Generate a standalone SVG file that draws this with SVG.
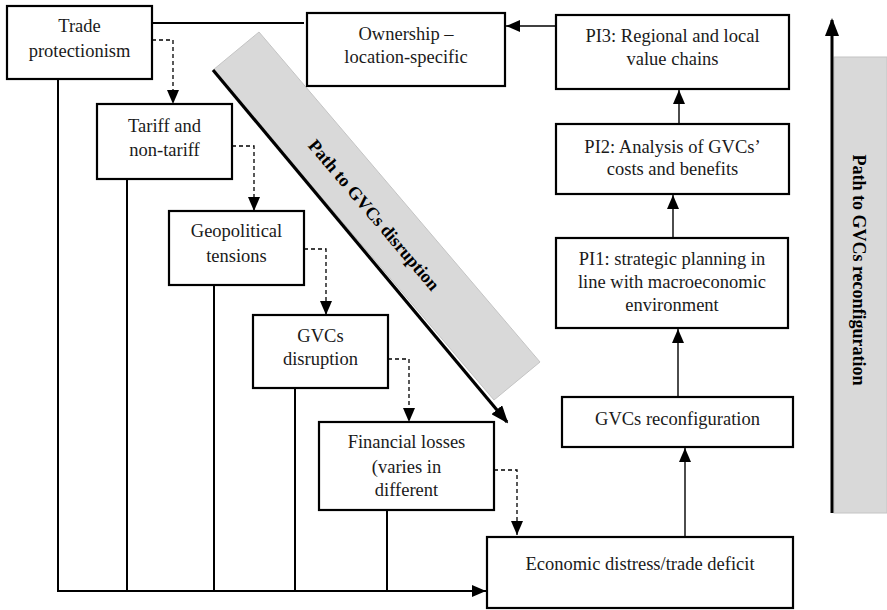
<svg xmlns="http://www.w3.org/2000/svg" width="887" height="610" viewBox="0 0 887 610">
<style>
.box{fill:#fff;stroke:#000;stroke-width:2.2}
.t{font-size:18.5px;fill:#1a1a1a;text-anchor:middle}
.b{font-size:18px;font-weight:bold;fill:#000;text-anchor:middle}
.solid{fill:none;stroke:#000;stroke-width:2}
.thin{fill:none;stroke:#000;stroke-width:1.4}
.dash{fill:none;stroke:#000;stroke-width:1.3;stroke-dasharray:4 3}
.band{fill:#d9d9d9;stroke:#c4c4c4;stroke-width:1}
</style>
<defs>
<marker id="ah" markerUnits="userSpaceOnUse" markerWidth="14" markerHeight="12" refX="14" refY="6" orient="auto" viewBox="0 0 14 12"><path d="M0,0 L14,6 L0,12 z" fill="#000"/></marker>
<marker id="ahb" markerUnits="userSpaceOnUse" markerWidth="18" markerHeight="14" refX="16" refY="7" orient="auto" viewBox="0 0 18 14"><path d="M0,0 L18,7 L0,14 z" fill="#000"/></marker>
</defs>
<g font-family="'Liberation Serif', 'DejaVu Serif', serif">
<g id="bands">
<polygon class="band" points="213,70 259,32 540,362 494,400"/>
<rect class="band" x="834" y="57" width="53" height="456"/>
<text class="b" transform="translate(374,215) rotate(49.6)" dy="6">Path to GVCs disruption</text>
<text class="b" transform="translate(859,270) rotate(90)" dy="6">Path to GVCs reconfiguration</text>
</g>
<g id="connectors">
<path class="solid" d="M152,23 H304"/>
<path class="thin" d="M556,26 H506" marker-end="url(#ah)"/>
<path class="thin" d="M679,124 V90" marker-end="url(#ah)"/>
<path class="thin" d="M673,238 V195" marker-end="url(#ah)"/>
<path class="thin" d="M678,397 V329" marker-end="url(#ah)"/>
<path class="thin" d="M685,537 V448" marker-end="url(#ah)"/>
<path class="dash" d="M152,40 H173 V104" marker-end="url(#ah)"/>
<path class="dash" d="M232,146 H254 V211" marker-end="url(#ah)"/>
<path class="dash" d="M304,249 H326 V315" marker-end="url(#ah)"/>
<path class="dash" d="M388,359 H409 V422" marker-end="url(#ah)"/>
<path class="dash" d="M494,470 H517 V535" marker-end="url(#ah)"/>
<path class="solid" d="M58,79 V591"/>
<path class="solid" d="M127,179 V591"/>
<path class="solid" d="M214,285 V591"/>
<path class="solid" d="M295,388 V591"/>
<path class="solid" d="M387,510 V591"/>
<path class="solid" d="M57,591 H486" stroke="#333" marker-end="url(#ah)"/>
<path fill="none" stroke="#000" stroke-width="3.2" d="M213,70 L507,422" marker-end="url(#ahb)"/>
<path fill="none" stroke="#000" stroke-width="3" d="M832,513 V20" marker-end="url(#ahb)"/>
</g>
<g id="trade"><rect class="box" x="7" y="6" width="145" height="73"/><text class="t" x="79.5" y="32">Trade</text><text class="t" x="79.5" y="57">protectionism</text></g>
<g id="ownership"><rect class="box" x="307" y="13" width="198" height="73"/><text class="t" x="406" y="40">Ownership –</text><text class="t" x="406" y="63">location-specific</text></g>
<g id="tariff"><rect class="box" x="97" y="104" width="135" height="75"/><text class="t" x="164.5" y="132">Tariff and</text><text class="t" x="164.5" y="156">non-tariff</text></g>
<g id="geo"><rect class="box" x="169" y="211" width="135" height="74"/><text class="t" x="236.5" y="237">Geopolitical</text><text class="t" x="236.5" y="262">tensions</text></g>
<g id="disruption"><rect class="box" x="253" y="315" width="135" height="73"/><text class="t" x="320.5" y="342">GVCs</text><text class="t" x="320.5" y="365">disruption</text></g>
<g id="financial"><rect class="box" x="319" y="422" width="175" height="88"/><text class="t" x="406.5" y="448">Financial losses</text><text class="t" x="406.5" y="473">(varies in</text><text class="t" x="406.5" y="496">different</text></g>
<g id="economic"><rect class="box" x="487" y="537" width="306" height="71"/><text class="t" x="640" y="570">Economic distress/trade deficit</text></g>
<g id="reconfig"><rect class="box" x="562" y="397" width="231" height="50"/><text class="t" x="677.5" y="425">GVCs reconfiguration</text></g>
<g id="pi1"><rect class="box" x="556" y="238" width="232" height="90"/><text class="t" x="672" y="265">PI1: strategic planning in</text><text class="t" x="672" y="288">line with macroeconomic</text><text class="t" x="672" y="311">environment</text></g>
<g id="pi2"><rect class="box" x="556" y="124" width="233" height="70"/><text class="t" x="672.5" y="153">PI2: Analysis of GVCs’</text><text class="t" x="672.5" y="175">costs and benefits</text></g>
<g id="pi3"><rect class="box" x="556" y="15" width="233" height="74"/><text class="t" x="672.5" y="42">PI3: Regional and local</text><text class="t" x="672.5" y="65">value chains</text></g>
</g>
</svg>
